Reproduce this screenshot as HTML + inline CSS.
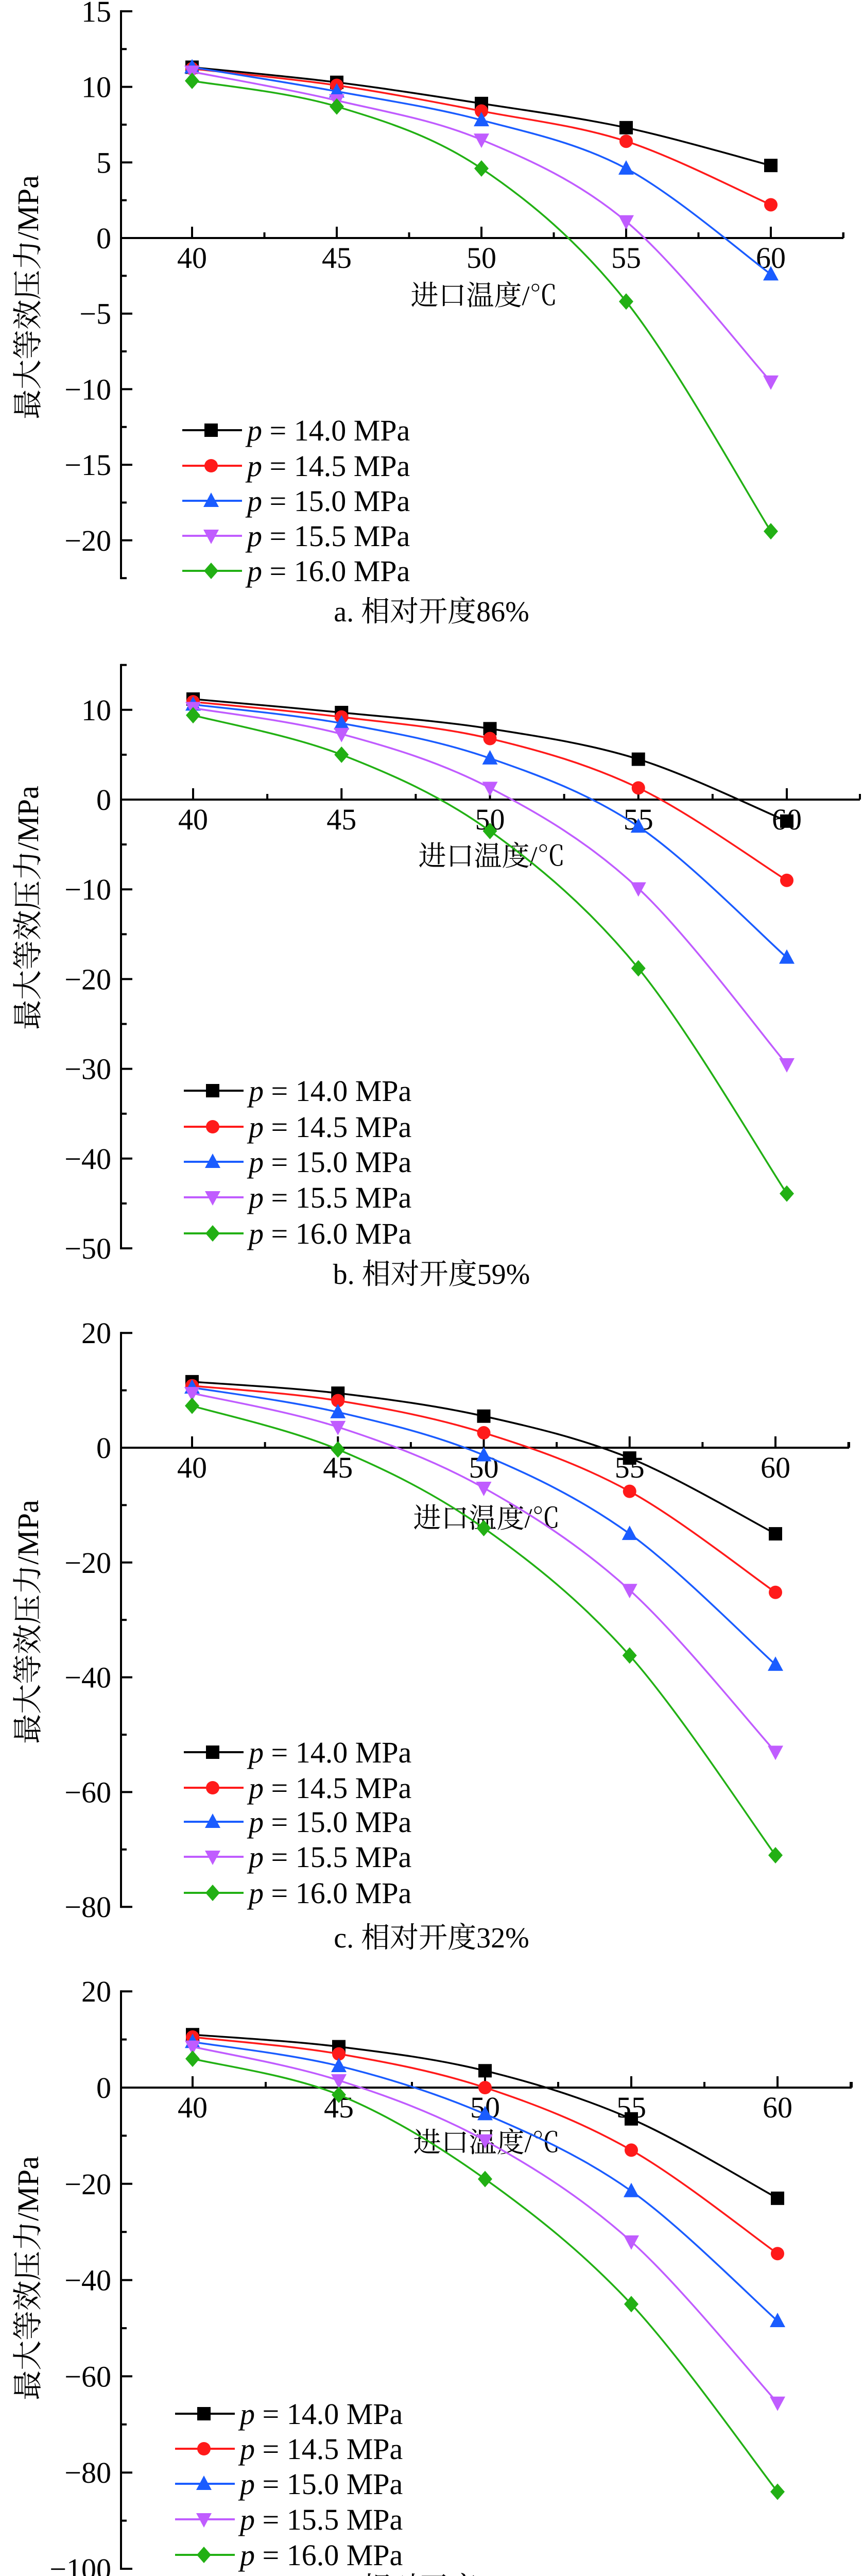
<!DOCTYPE html>
<html><head><meta charset="utf-8">
<style>
html,body{margin:0;padding:0;background:#fff;width:1676px;height:5065px;overflow:hidden;}
svg{display:block;}
text{font-family:"Liberation Serif","Noto Serif CJK SC",serif;fill:#000;}
</style></head>
<body>
<svg id="fig" width="1676" height="5065" viewBox="0 0 1676 5065" overflow="hidden" xmlns="http://www.w3.org/2000/svg"></svg>
<script>
// ----- data -----
const temps = [40, 45, 50, 55, 60];
const seriesLabels = ["14.0", "14.5", "15.0", "15.5", "16.0"];
// panel a: relative opening 86%
const a_p140 = [11.3, 10.3, 8.9, 7.3, 4.8];
const a_p145 = [11.2, 10.1, 8.4, 6.4, 2.2];
const a_p150 = [11.3, 9.7, 7.8, 4.6, -2.4];
const a_p155 = [11.0, 9.1, 6.5, 1.1, -9.5];
const a_p160 = [10.4, 8.7, 4.6, -4.2, -19.4];
// panel b: 59%
const b_p140 = [11.2, 9.7, 7.9, 4.5, -2.4];
const b_p145 = [10.9, 9.2, 6.8, 1.3, -9.0];
const b_p150 = [10.6, 8.5, 4.6, -3.0, -17.6];
const b_p155 = [10.2, 7.3, 1.3, -9.9, -29.5];
const b_p160 = [9.4, 5.0, -3.5, -18.8, -43.9];
// panel c: 32%
const c_p140 = [11.5, 9.5, 5.5, -1.8, -15.0];
const c_p145 = [10.8, 8.2, 2.6, -7.6, -25.2];
const c_p150 = [10.5, 6.2, -1.3, -15.0, -37.8];
const c_p155 = [9.5, 3.6, -7.0, -24.8, -53.0];
const c_p160 = [7.3, -0.3, -14.0, -36.2, -71.0];
// panel d: 23%
const d_p140 = [11.0, 8.5, 3.5, -6.5, -23.0];
const d_p145 = [10.5, 7.0, 0.0, -13.0, -34.5];
const d_p150 = [9.5, 4.5, -5.5, -21.5, -48.5];
const d_p155 = [8.5, 1.5, -11.0, -32.0, -65.5];
const d_p160 = [6.0, -1.5, -19.0, -45.0, -84.0];
// tick labels
const xTicks = [40, 45, 50, 55, 60];
const a_yTicks = [15, 10, 5, 0, -5, -10, -15, -20];
const b_yTicks = [10, 0, -10, -20, -30, -40, -50];
const c_yTicks = [20, 0, -20, -40, -60, -80];
const d_yTicks = [20, 0, -20, -40, -60, -80, -100];
const captions = ["a. 相对开度86%", "b. 相对开度59%", "c. 相对开度32%", "d. 相对开度23%"];

const colors = ["#000000", "#ff1a1a", "#1a5cff", "#c05cff", "#22b014"];
const markers = ["square", "circle", "tri", "tridown", "diamond"];
const NS = "http://www.w3.org/2000/svg";
const svg = document.getElementById("fig");

function el(tag, attrs, parent) {
  const e = document.createElementNS(NS, tag);
  for (const k in attrs) e.setAttribute(k, attrs[k]);
  (parent || svg).appendChild(e);
  return e;
}
function fmt(v) { return v < 0 ? "\u2212" + Math.abs(v) : String(v); }

function marker(g, type, x, y, c) {
  let m;
  const s = 13;
  if (type === "square") m = el("rect", {x: x - s, y: y - s, width: 2 * s, height: 2 * s, fill: c}, g);
  else if (type === "circle") m = el("circle", {cx: x, cy: y, r: s, fill: c}, g);
  else if (type === "tri") m = el("polygon", {points: `${x},${y - s - 3} ${x - s - 2},${y + s - 1} ${x + s + 2},${y + s - 1}`, fill: c}, g);
  else if (type === "tridown") m = el("polygon", {points: `${x},${y + s + 3} ${x - s - 2},${y - s + 1} ${x + s + 2},${y - s + 1}`, fill: c}, g);
  else m = el("polygon", {points: `${x},${y - s - 3} ${x + s + 1},${y} ${x},${y + s + 3} ${x - s - 1},${y}`, fill: c}, g);
  return m;
}

function spline(pts) {
  let d = `M${pts[0][0]},${pts[0][1]}`;
  for (let i = 0; i < pts.length - 1; i++) {
    const p0 = pts[i - 1] || pts[i], p1 = pts[i], p2 = pts[i + 1], p3 = pts[i + 2] || p2;
    const c1x = p1[0] + (p2[0] - p0[0]) / 6, c1y = p1[1] + (p2[1] - p0[1]) / 6;
    const c2x = p2[0] - (p3[0] - p1[0]) / 6, c2y = p2[1] - (p3[1] - p1[1]) / 6;
    d += ` C${c1x},${c1y} ${c2x},${c2y} ${p2[0]},${p2[1]}`;
  }
  return d;
}

function panel(cfg) {
  const g = el("g", {});
  
  
  const X = v => cfg.x40 + (v - 40) * (cfg.x60 - cfg.x40) / 20;
  const Y = v => cfg.y0 - v * cfg.pxPerUnit;
  const ax = cfg.axisX;
  const yAxis = el("line", {x1: ax, y1: Y(cfg.yTop) - 2, x2: ax, y2: Y(cfg.yBot) + 2, stroke: "#000", "stroke-width": 4}, g);
  
  
  for (let v = cfg.yTop; v >= cfg.yBot - 1e-9; v -= cfg.minor) {
    const major = Math.abs(Math.round(v / cfg.major) * cfg.major - v) < 1e-6;
    el("line", {x1: ax, y1: Y(v), x2: ax + (major ? 22 : 11), y2: Y(v), stroke: "#000", "stroke-width": 4}, g);
  }
  cfg.yTicks.forEach(v => {
    const t = el("text", {x: 216, y: Y(v) + 20, "text-anchor": "end", "font-size": 58}, g);
    t.textContent = fmt(v);
    
    
  });
  const xAxis = el("line", {x1: ax, y1: Y(0), x2: cfg.axisEnd, y2: Y(0), stroke: "#000", "stroke-width": 4}, g);
  
  
  for (let v = 40; X(v) <= cfg.axisEnd + 1; v += 2.5) {
    const major = v % 5 === 0;
    el("line", {x1: X(v), y1: Y(0), x2: X(v), y2: Y(0) - (major ? 22 : 11), stroke: "#000", "stroke-width": 4}, g);
  }
  el("line", {x1: cfg.axisEnd, y1: Y(0), x2: cfg.axisEnd, y2: Y(0) - 11, stroke: "#000", "stroke-width": 4}, g);
  xTicks.forEach(v => {
    const t = el("text", {x: X(v), y: Y(0) + 58, "text-anchor": "middle", "font-size": 58}, g);
    t.textContent = v;
    
    
  });
  const xt = el("text", {x: cfg.xTitleX, y: Y(0) + cfg.xTitleDy, "text-anchor": "middle", "font-size": 54}, g);
  xt.textContent = "进口温度/℃";
  
  
  const yt = el("text", {x: 0, y: 0, "text-anchor": "middle", "font-size": 58, transform: `translate(74,${cfg.yTitleY}) rotate(-90)`}, g);
  yt.textContent = "最大等效压力/MPa";
  
  
  cfg.series.forEach((vals, i) => {
    const pts = vals.map((v, j) => [X(temps[j]), Y(v)]);
    const sg = el("g", {}, g);
    
    
    el("path", {d: spline(pts), fill: "none", stroke: colors[i], "stroke-width": 3.5}, sg);
    pts.forEach(p => {
      const m = marker(sg, markers[i], p[0], p[1], colors[i]);
      
      
    });
  });
  cfg.legendY.forEach((ly, i) => {
    const lg = el("g", {}, g);
    
    
    el("line", {x1: cfg.legX, y1: ly, x2: cfg.legX + 116, y2: ly, stroke: colors[i], "stroke-width": 4}, lg);
    marker(lg, markers[i], cfg.legX + 56, ly, colors[i]);
    const t = el("text", {x: cfg.legX + 126, y: ly + 20, "font-size": 58}, lg);
    const ti = el("tspan", {"font-style": "italic"}, t);
    ti.textContent = "p";
    const tr = el("tspan", {}, t);
    tr.textContent = " = " + seriesLabels[i] + " MPa";
  });
  const cap = el("text", {x: 838, y: cfg.capY + 20, "text-anchor": "middle", "font-size": 56}, g);
  cap.textContent = captions[cfg.idx];
  
  
}

panel({id: "a", idx: 0, axisX: 235, x40: 373, x60: 1497, axisEnd: 1638, y0: 462, pxPerUnit: 146.7 / 5,
  yTop: 15, yBot: -22.5, major: 5, minor: 2.5, yTicks: a_yTicks,
  series: [a_p140, a_p145, a_p150, a_p155, a_p160],
  xTitleX: 940, xTitleDy: 130, yTitleY: 577, legX: 354, legendY: [835, 904, 972, 1040, 1108], capY: 1186});
panel({id: "b", idx: 1, axisX: 235, x40: 375, x60: 1528, axisEnd: 1670, y0: 1552, pxPerUnit: 174.2 / 10,
  yTop: 15, yBot: -50, major: 10, minor: 5, yTicks: b_yTicks,
  series: [b_p140, b_p145, b_p150, b_p155, b_p160],
  xTitleX: 955, xTitleDy: 128, yTitleY: 1762, legX: 357, legendY: [2117, 2187, 2255, 2324, 2394], capY: 2472});
panel({id: "c", idx: 2, axisX: 235, x40: 373, x60: 1506, axisEnd: 1649, y0: 2810, pxPerUnit: 222.8 / 20,
  yTop: 20, yBot: -80, major: 20, minor: 10, yTicks: c_yTicks,
  series: [c_p140, c_p145, c_p150, c_p155, c_p160],
  xTitleX: 945, xTitleDy: 155, yTitleY: 3148, legX: 357, legendY: [3401, 3470, 3536, 3604, 3674], capY: 3760});
panel({id: "d", idx: 3, axisX: 235, x40: 374, x60: 1510, axisEnd: 1654, y0: 4052, pxPerUnit: 186.8 / 20,
  yTop: 20, yBot: -100, major: 20, minor: 10, yTicks: d_yTicks,
  series: [d_p140, d_p145, d_p150, d_p155, d_p160],
  xTitleX: 945, xTitleDy: 125, yTitleY: 4422, legX: 340, legendY: [4685, 4753, 4821, 4890, 4959], capY: 5022});
</script>
</body></html>
